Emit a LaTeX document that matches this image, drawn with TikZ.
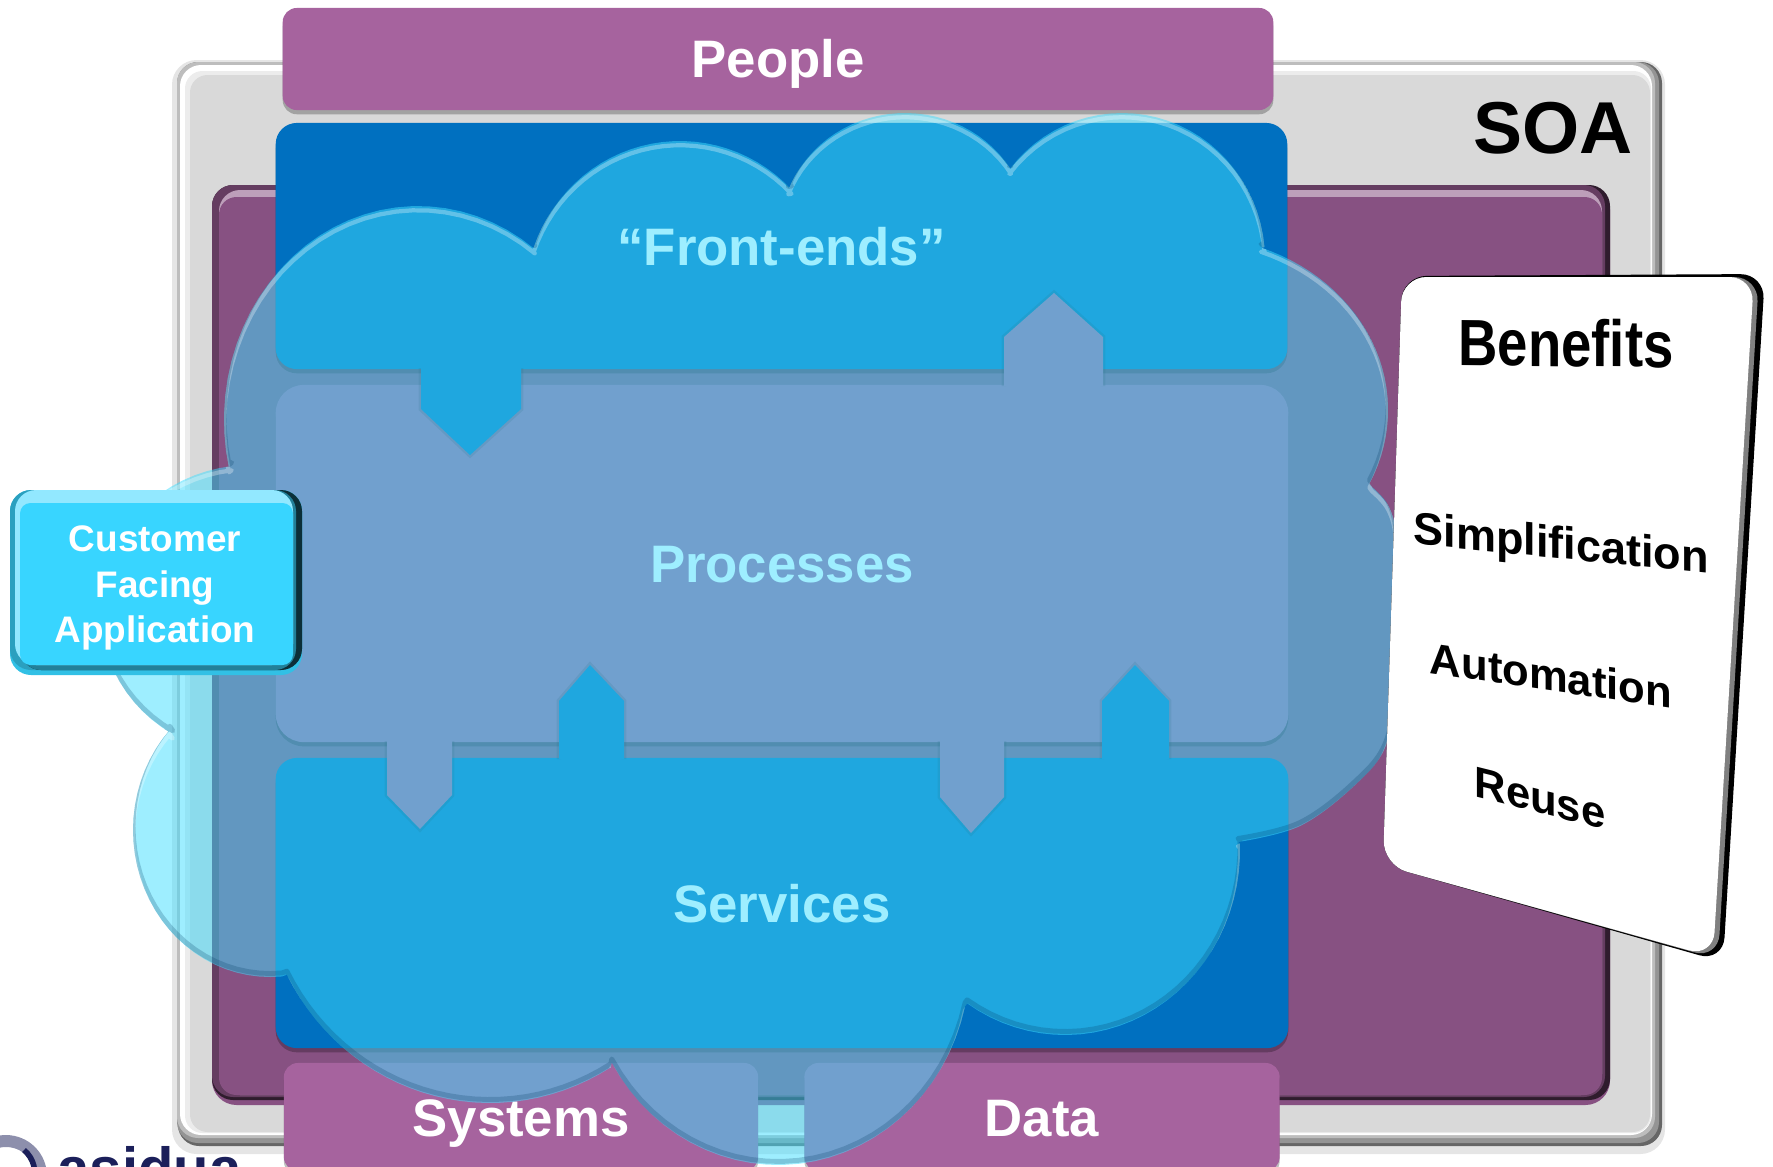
\documentclass[tikz,border=0pt]{standalone}
\usepackage{fontspec}
\setmainfont{Liberation Sans}
\usetikzlibrary{shadows}
\definecolor{soagrey}{RGB}{217,217,217}
\definecolor{soapurple}{RGB}{135,81,130}
\definecolor{barpurple}{RGB}{166,99,158}
\definecolor{layerblue}{RGB}{0,112,192}
\definecolor{cloudcyan}{RGB}{62,222,255}
\definecolor{appcyan}{RGB}{56,213,255}
\definecolor{logonavy}{RGB}{27,31,90}
\tikzset{
    barbox/.style={rectangle, rounded corners=4pt, fill=barpurple, text=white, inner sep=0pt,
        text height=10.8pt, text depth=0pt, font=\fontsize{15}{18}\selectfont\bfseries,
        drop shadow={shadow xshift=0pt, shadow yshift=-1.2pt, opacity=0.25, fill=black}},
    layerbox/.style={barbox, rounded corners=6pt, fill=layerblue},
    blockarrow/.style={preaction={draw=black, opacity=0.14, line width=1.4pt}},
    benefit/.style={text=black, inner sep=0pt, transform shape, font=\fontsize{12.8}{16}\selectfont\bfseries}
}
\newcommand{\lobe}[6]{-- plot[domain=#5:#6, samples=30, variable=\t] ({#1+#3*cos(\t)},{#2+#4*sin(\t)})}
\newcommand{\cloudpath}{
    (229,468)
    \lobe{418}{420}{194}{214}{167}{307}
    \lobe{680}{300}{155}{159}{199}{316}
    \lobe{905}{233}{125}{120}{201}{328}
    \lobe{1122}{260}{143}{147}{218}{355}
    \lobe{1190}{410}{198}{174}{291}{385}
    -- plot[smooth, tension=0.6] coordinates {(1372,487) (1388,505) (1396,535) (1398,600) (1396,680) (1386,745) (1355,785) (1300,826) (1238,842)}
    \lobe{1065}{850}{175}{185}{-2}{124}
    \lobe{778}{960}{192}{205}{13}{150}
    \lobe{490}{868}{228}{235}{58}{153}
    \lobe{270}{830}{137}{147}{85}{223}
    \lobe{250}{610}{150}{145}{121}{263}
    -- cycle}

\begin{document}
\begin{tikzpicture}[x=0.01cm, y=-0.01cm]
    \useasboundingbox (0,0) rectangle (1773,1166);
    \clip (0,0) rectangle (1773,1166);

    % Logo
    \draw[line width=3.4pt, logonavy!50!white] (6,1176) circle (35);
    \draw[line width=1.6pt, logonavy] (24,1150) arc (-50:20:30);
    \node[anchor=base west, inner sep=0pt, text=logonavy, font=\fontsize{16.5}{18}\selectfont\bfseries] (logo) at (57,1188) {asidua};

    % SOA frame
    \fill[rounded corners=7pt, black!10] (172,60) rectangle (1665,1154);
    \fill[rounded corners=6pt, black!60] (178,62) rectangle (1662,1146);
    \fill[rounded corners=6pt, black!42] (177,62) rectangle (1659,1143);
    \fill[rounded corners=6pt, black!26] (177,62) rectangle (1655,1138);
    \fill[rounded corners=6pt, white] (180,65) rectangle (1652,1135);
    \fill[rounded corners=5pt, soagrey!50!white] (185,71) rectangle (1651,1133);
    \fill[rounded corners=5pt, soagrey] (190,75) rectangle (1650,1132);
    \node[anchor=center, inner sep=0pt, text=black, font=\fontsize{20.9}{24}\selectfont\bfseries] (soa) at (1553,128) {SOA};

    % SOA inner panel
    \fill[rounded corners=7pt, soapurple] (212,185) rectangle (1610,1105);
    \fill[rounded corners=6pt, soapurple!35!black] (212,185) rectangle (1610,1100);
    \fill[rounded corners=6pt, soapurple!75!black] (212,185) rectangle (1605,1097);
    \fill[rounded corners=6pt, soapurple!55!white] (219,190) rectangle (1602,1095);
    \fill[rounded corners=5pt, soapurple] (219,197) rectangle (1602,1095);

    % Outer bars
    \node[barbox, minimum width=9.9cm, minimum height=1.02cm] (people) at (778,59) {People};
    \node[barbox, minimum width=4.74cm, minimum height=1.08cm] (systems) at (521,1117) {Systems};
    \node[barbox, minimum width=4.75cm, minimum height=1.08cm] (data) at (1042,1117) {Data};

    % Layers
    \node[layerbox, minimum width=10.11cm, minimum height=2.46cm] (frontends) at (781.5,246) {``Front-ends''};
    \node[barbox, rounded corners=8pt, minimum width=10.12cm, minimum height=3.57cm] (processes) at (782,563.5) {Processes};
    \fill[layerblue, blockarrow] (421,368) -- (421,409) -- (470,455) -- (521,409) -- (521,368);
    \fill[barpurple, blockarrow] (1004,386) -- (1004,337) -- (1054,293) -- (1103,337) -- (1103,386);
    \node[layerbox, minimum width=10.12cm, minimum height=2.90cm] (services) at (782,903) {Services};
    \fill[layerblue, blockarrow] (559,759) -- (559,701) -- (590,665) -- (624,701) -- (624,759);
    \fill[layerblue, blockarrow] (1102,759) -- (1102,701) -- (1135,665) -- (1169,701) -- (1169,759);
    \fill[barpurple, blockarrow] (387,741) -- (387,795) -- (420,829) -- (452,795) -- (452,741);
    \fill[barpurple, blockarrow] (940,741) -- (940,797) -- (971,833) -- (1004,797) -- (1004,741);

    % Cloud
    \fill[cloudcyan, opacity=0.5] \cloudpath;
    \begin{scope}[line join=round]
        \clip \cloudpath;
        \draw[line width=1.2pt, white, opacity=0.3, yshift=-1.2pt] \cloudpath;
        \draw[line width=1.4pt, layerblue!50!black, opacity=0.22, yshift=1pt] \cloudpath;
    \end{scope}

    % Customer box
    \fill[rounded corners=6pt, appcyan!90!black] (10,490) rectangle (302,675);
    \fill[rounded corners=6pt, appcyan!75!black] (10,490) rectangle (302,670);
    \fill[rounded corners=6pt, appcyan!22!black] (20,490) rectangle (302,670);
    \fill[rounded corners=6pt, appcyan!60!black] (20,490) rectangle (296,670);
    \fill[rounded corners=6pt, appcyan!55!white] (15,490) rectangle (293,665);
    \fill[rounded corners=3pt, appcyan] (20,503) rectangle (293,665);
    \node[inner sep=0pt, align=center, text=white, font=\fontsize{10.5}{12.9}\selectfont\bfseries] (customer) at (155,588) {Customer\\Facing\\Application};

    % Benefits card
    \fill[rounded corners=7pt, black] (1402,276) -- (1765,274) -- (1723,962) -- (1383,865) -- cycle;
    \fill[rounded corners=7pt, black!50] (1402,277) -- (1759,277) -- (1718,959) -- (1383,865) -- cycle;
    \fill[rounded corners=7pt, white] (1402,277) -- (1754,277) -- (1713,957) -- (1383,865) -- cycle;
    \node[benefit, yslant=-0.01, yscale=1.2, font=\fontsize{15.5}{18}\selectfont\bfseries] (benefits) at (1566,343) {Benefits};
    \node[benefit, yslant=-0.1] (simplification) at (1561,547) {Simplification};
    \node[benefit, yslant=-0.145, font=\fontsize{12.4}{15}\selectfont\bfseries] (automation) at (1551,675) {Automation};
    \node[benefit, yslant=-0.25, font=\fontsize{12.4}{15}\selectfont\bfseries] (reuse) at (1540,798) {Reuse};
\end{tikzpicture}
\end{document}
